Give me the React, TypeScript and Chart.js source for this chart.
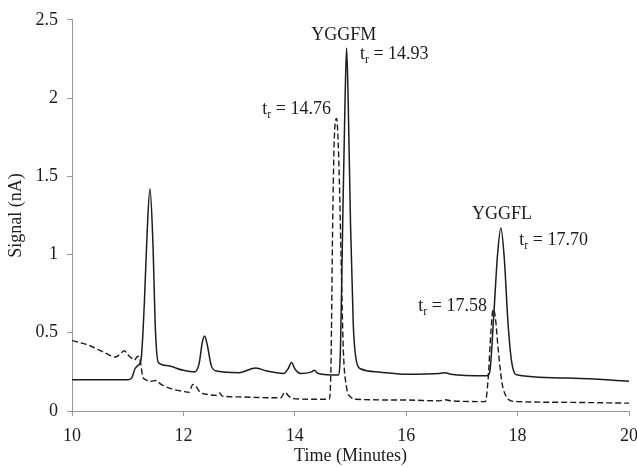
import React, { useEffect, useRef } from "react";
import { Chart, registerables } from "chart.js";

Chart.register(...registerables);

// Solid trace (sample): retention time (min) and signal (nA)
const solidTimes = [
  10, 11.0, 11.07, 11.13, 11.18, 11.24, 11.3, 11.35, 11.4, 11.45, 11.5, 11.55, 11.7,
  12.0, 12.2, 12.28, 12.34, 12.38, 12.43, 12.5, 12.6, 13.0, 13.3, 13.5, 13.8, 13.88,
  13.94, 14.0, 14.1, 14.3, 14.35, 14.42, 14.78, 14.82, 14.86, 14.9, 14.93, 14.96,
  15.0, 15.05, 15.1, 15.18, 15.5, 16.0, 16.6, 16.7, 16.8, 17.45, 17.5, 17.57, 17.64,
  17.7, 17.76, 17.83, 17.9, 18.0, 19.0, 20,
];
const solidSignal = [
  0.2, 0.2, 0.21, 0.27, 0.29, 0.33, 0.7, 1.15, 1.42, 1.1, 0.5, 0.31, 0.29,
  0.26, 0.25, 0.3, 0.44, 0.48, 0.42, 0.29, 0.255, 0.245, 0.275, 0.255, 0.24, 0.27,
  0.31, 0.27, 0.24, 0.25, 0.26, 0.24, 0.23, 0.4, 1.2, 1.95, 2.32, 1.95,
  1.2, 0.55, 0.33, 0.27, 0.25, 0.235, 0.24, 0.245, 0.235, 0.225, 0.25, 0.6, 1.0,
  1.17, 0.98, 0.55, 0.3, 0.23, 0.21, 0.19,
];

// Dashed trace (standard)
const dashedTimes = [
  10, 10.3, 10.6, 10.78, 10.88, 10.94, 11.0, 11.06, 11.12, 11.18, 11.22, 11.27, 11.32,
  11.42, 11.5, 11.6, 11.8, 12.0, 12.1, 12.17, 12.22, 12.3, 12.45, 12.6, 12.65, 12.7,
  13.0, 13.5, 13.75, 13.82, 13.88, 13.95, 14.3, 14.62, 14.65, 14.68, 14.71, 14.75,
  14.79, 14.83, 14.87, 14.93, 15.0, 15.1, 16.0, 16.6, 16.7, 16.8, 17.42, 17.47, 17.52,
  17.56, 17.6, 17.65, 17.72, 17.8, 17.88, 18.0, 19.0, 20,
];
const dashedSignal = [
  0.45, 0.42, 0.37, 0.345, 0.37, 0.385, 0.36, 0.34, 0.325, 0.35, 0.33, 0.22, 0.2,
  0.19, 0.195, 0.17, 0.14, 0.125, 0.12, 0.17, 0.16, 0.12, 0.105, 0.1, 0.115, 0.095,
  0.09, 0.085, 0.085, 0.12, 0.1, 0.08, 0.075, 0.075, 0.3, 1.2, 1.75, 1.87,
  1.6, 1.0, 0.4, 0.15, 0.09, 0.075, 0.07, 0.065, 0.072, 0.065, 0.06, 0.2, 0.5,
  0.65, 0.6, 0.4, 0.18, 0.09, 0.065, 0.06, 0.055, 0.05,
];

const xTicks = [10, 12, 14, 16, 18, 20];
const yTicks = [0, 0.5, 1, 1.5, 2, 2.5];

// Annotation labels ("|" marks the subscript part), anchor time, anchor signal, alignment
const labelTexts = ["YGGFM", "t|r| = 14.93", "t|r| = 14.76", "YGGFL", "t|r| = 17.70", "t|r| = 17.58"];
const labelTimes = [14.88, 15.17, 14.65, 17.72, 18.03, 17.45];
const labelSignals = [2.37, 2.25, 1.9, 1.228, 1.06, 0.64];
const labelAligns = ["center", "left", "right", "center", "left", "right"];

const FONT = "'Liberation Serif', 'Times New Roman', serif";
const INK = "#1c1c1c";

const annotationPlugin = {
  id: "peakLabels",
  afterDatasetsDraw(chart: any) {
    const ctx = chart.ctx;
    const xs = chart.scales.x;
    const ys = chart.scales.y;
    ctx.save();
    ctx.fillStyle = INK;
    ctx.textBaseline = "alphabetic";
    labelTexts.forEach((raw, i) => {
      const parts = raw.split("|");
      const big = `18px ${FONT}`;
      const small = `12px ${FONT}`;
      const segs: { t: string; f: string; dy: number }[] =
        parts.length === 3
          ? [
              { t: parts[0], f: big, dy: 0 },
              { t: parts[1], f: small, dy: 4 },
              { t: parts[2], f: big, dy: 0 },
            ]
          : [{ t: raw, f: big, dy: 0 }];
      let total = 0;
      segs.forEach((s) => {
        ctx.font = s.f;
        total += ctx.measureText(s.t).width;
      });
      const px = xs.getPixelForValue(labelTimes[i]);
      const py = ys.getPixelForValue(labelSignals[i]);
      let x = px;
      if (labelAligns[i] === "center") x = px - total / 2;
      else if (labelAligns[i] === "right") x = px - total;
      ctx.textAlign = "left";
      segs.forEach((s) => {
        ctx.font = s.f;
        ctx.fillText(s.t, x, py + s.dy);
        x += ctx.measureText(s.t).width;
      });
    });
    ctx.restore();
  },
};

export default function App() {
  const canvasRef = useRef<HTMLCanvasElement | null>(null);

  useEffect(() => {
    document.body.style.margin = "0";
    const canvas = canvasRef.current;
    if (!canvas) return;
    const toPts = (xs: number[], ys: number[]) => xs.map((x, i) => ({ x, y: ys[i] }));
    const chart = new Chart(canvas, {
      type: "line",
      data: {
        datasets: [
          {
            label: "Sample",
            data: toPts(solidTimes, solidSignal),
            borderColor: INK,
            borderWidth: 1.5,
            pointRadius: 0,
            cubicInterpolationMode: "monotone",
            fill: false,
          },
          {
            label: "Standard",
            data: toPts(dashedTimes, dashedSignal),
            borderColor: INK,
            borderWidth: 1.4,
            borderDash: [6, 3],
            pointRadius: 0,
            cubicInterpolationMode: "monotone",
            fill: false,
          },
        ],
      },
      options: {
        animation: false,
        responsive: false,
        maintainAspectRatio: false,
        layout: { padding: { top: 18, right: 8, left: 0, bottom: 0 } },
        plugins: { legend: { display: false }, tooltip: { enabled: false } },
        scales: {
          x: {
            type: "linear",
            min: 10,
            max: 20,
            afterBuildTicks: (s: any) => {
              s.ticks = xTicks.map((v) => ({ value: v }));
            },
            afterFit: (s: any) => {
              s.height = 56;
              s.paddingLeft = 0;
              s.paddingRight = 0;
            },
            ticks: {
              color: INK,
              font: { family: FONT, size: 18 },
              padding: 9,
              maxRotation: 0,
              callback: (v: any) => String(v),
            },
            grid: {
              display: true,
              drawOnChartArea: false,
              drawTicks: true,
              tickLength: 5,
              color: "#999",
            },
            border: { display: true, color: "#999", width: 1 },
            title: {
              display: true,
              text: "Time (Minutes)",
              color: INK,
              font: { family: FONT, size: 18 },
              padding: { top: 0, bottom: 0 },
            },
          },
          y: {
            type: "linear",
            min: 0,
            max: 2.5,
            afterBuildTicks: (s: any) => {
              s.ticks = yTicks.map((v) => ({ value: v }));
            },
            afterFit: (s: any) => {
              s.width = 72;
            },
            ticks: {
              color: INK,
              font: { family: FONT, size: 18 },
              padding: 9,
              callback: (v: any) => String(v),
            },
            grid: {
              display: true,
              drawOnChartArea: false,
              drawTicks: true,
              tickLength: 5,
              color: "#999",
            },
            border: { display: true, color: "#999", width: 1 },
            title: {
              display: true,
              text: "Signal (nA)",
              color: INK,
              font: { family: FONT, size: 18 },
              padding: { top: 5, bottom: 0 },
            },
          },
        },
      },
      plugins: [annotationPlugin],
    } as any);
    return () => chart.destroy();
  }, []);

  return (
    <div style={{ width: 637, height: 467 }}>
      <canvas ref={canvasRef} width={637} height={467} style={{ display: "block" }} />
    </div>
  );
}
